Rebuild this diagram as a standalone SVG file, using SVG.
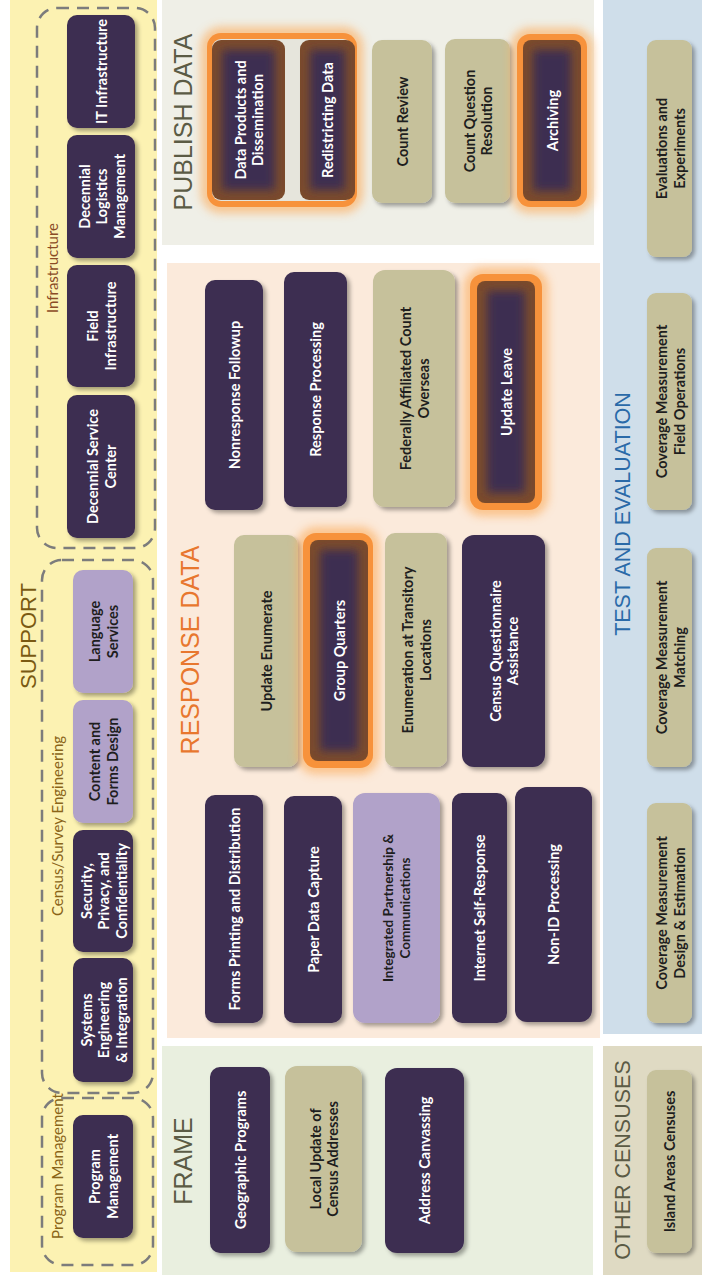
<svg xmlns="http://www.w3.org/2000/svg" width="702" height="1278" viewBox="0 0 702 1278">
  <defs>
    <filter id="sh" x="-30%" y="-30%" width="160%" height="160%">
      <feDropShadow dx="3" dy="3" stdDeviation="2" flood-color="#000" flood-opacity="0.35"/>
    </filter>
    <filter id="glow" x="-40%" y="-40%" width="180%" height="180%">
      <feGaussianBlur stdDeviation="5"/>
    </filter>
    <filter id="soft" x="-60%" y="-60%" width="220%" height="220%">
      <feGaussianBlur stdDeviation="5"/>
    </filter>
    <style>
      text { dominant-baseline: central; text-anchor: middle; }
      .dk { fill: #3e2f51; filter: url(#sh); }
      .tan { fill: #c6c19b; filter: url(#sh); }
      .lp { fill: #b1a2c9; filter: url(#sh); }
      .halo { fill: none; stroke: #fbb36a; stroke-width: 12; opacity: 0.75; filter: url(#glow); }
      .ring { fill: #f7923b; }
      .brown { fill: #7b4b2c; }
      .core { fill: #3e2f51; filter: url(#soft); }
      .w { fill: #ffffff; font-family: Lato, "Open Sans", sans-serif; font-size: 14.5px; font-weight: bold; }
      .b { fill: #1e1e1e; font-family: Lato, "Open Sans", sans-serif; font-size: 14.5px; font-weight: bold; }
      .b.sm { font-size: 13.5px; }
      .grp { fill: none; stroke: #7c7c7c; stroke-width: 2.5; stroke-dasharray: 12 8; }
      .glbl { font-family: Lato, "Open Sans", sans-serif; font-size: 15px; }
      .title { font-family: "Liberation Sans", Arial, sans-serif; }
    </style>
  </defs>

  <rect width="702" height="1278" fill="#ffffff"/>

  <!-- panels -->
  <g id="panels">
    <rect x="10" y="0" width="147" height="1272" fill="#fcf2b2"/>
    <rect x="162" y="0" width="432" height="245" fill="#efefe7"/>
    <rect x="167" y="263" width="433" height="775" fill="#fbeadb"/>
    <rect x="162" y="1046" width="431" height="229" fill="#e9efdf"/>
    <rect x="603" y="0" width="99" height="1034" fill="#cfdeea"/>
    <rect x="603" y="1046" width="99" height="229" fill="#dfdac3"/>
  </g>

  <!-- panel titles -->
  <g id="titles" class="title">
    <text transform="translate(28,636) rotate(-90)" font-size="22" fill="#7a5a12">SUPPORT</text>
    <text transform="translate(183,122) rotate(-90)" font-size="25" fill="#5b5b45">PUBLISH DATA</text>
    <text transform="translate(190,650) rotate(-90)" font-size="25" fill="#e8772e">RESPONSE DATA</text>
    <text transform="translate(183,1161) rotate(-90)" font-size="25" fill="#5b5b45">FRAME</text>
    <text transform="translate(623,514) rotate(-90)" font-size="21.5" fill="#2a6aa8">TEST AND EVALUATION</text>
    <text transform="translate(623,1160) rotate(-90)" font-size="21.5" fill="#5b5b45">OTHER CENSUSES</text>
  </g>

  <!-- dashed support groups -->
  <g id="group-infrastructure">
    <rect class="grp" x="37" y="8" width="118" height="540" rx="20"/>
    <text class="glbl" transform="translate(52,268) rotate(-90)" fill="#8a4b26">Infrastructure</text>
  </g>
  <g id="group-census-survey">
    <rect class="grp" x="42" y="560" width="111" height="533" rx="20"/>
    <text class="glbl" transform="translate(57,826) rotate(-90)" fill="#8a6418">Census/Survey Engineering</text>
  </g>
  <g id="group-program-management">
    <rect class="grp" x="42" y="1098" width="111" height="167" rx="20"/>
    <text class="glbl" transform="translate(57,1166) rotate(-90)" fill="#8a6418">Program Management</text>
  </g>

  <g id="connectors"/>

  <!-- support nodes -->
  <g id="it-infrastructure">
    <rect class="dk" x="67" y="15" width="68" height="113" rx="10"/>
    <text class="w" transform="translate(101,71.5) rotate(-90)">IT Infrastructure</text>
  </g>
  <g id="decennial-logistics">
    <rect class="dk" x="67" y="135" width="68" height="123" rx="10"/>
    <text class="w" transform="translate(101,196.5) rotate(-90)"><tspan x="0" y="-17.5">Decennial</tspan><tspan x="0" y="0">Logistics</tspan><tspan x="0" y="17.5">Management</tspan></text>
  </g>
  <g id="field-infrastructure">
    <rect class="dk" x="67" y="265" width="68" height="122" rx="10"/>
    <text class="w" transform="translate(101,326) rotate(-90)"><tspan x="0" y="-8.75">Field</tspan><tspan x="0" y="8.75">Infrastructure</tspan></text>
  </g>
  <g id="decennial-service-center">
    <rect class="dk" x="67" y="395" width="68" height="143" rx="10"/>
    <text class="w" transform="translate(101,466.5) rotate(-90)"><tspan x="0" y="-8.75">Decennial Service</tspan><tspan x="0" y="8.75">Center</tspan></text>
  </g>
  <g id="language-services">
    <rect class="lp" x="73" y="570" width="60" height="123" rx="10"/>
    <text class="b" transform="translate(103,631.5) rotate(-90)"><tspan x="0" y="-8.75">Language</tspan><tspan x="0" y="8.75">Services</tspan></text>
  </g>
  <g id="content-forms-design">
    <rect class="lp" x="73" y="700" width="60" height="123" rx="10"/>
    <text class="b" transform="translate(103,761.5) rotate(-90)"><tspan x="0" y="-8.75">Content and</tspan><tspan x="0" y="8.75">Forms Design</tspan></text>
  </g>
  <g id="security-privacy">
    <rect class="dk" x="73" y="830" width="60" height="122" rx="10"/>
    <text class="w" transform="translate(103,891) rotate(-90)"><tspan x="0" y="-17.5">Security,</tspan><tspan x="0" y="0">Privacy, and</tspan><tspan x="0" y="17.5">Confidentiality</tspan></text>
  </g>
  <g id="systems-engineering">
    <rect class="dk" x="73" y="958" width="60" height="124" rx="10"/>
    <text class="w" transform="translate(103,1020) rotate(-90)"><tspan x="0" y="-17.5">Systems</tspan><tspan x="0" y="0">Engineering</tspan><tspan x="0" y="17.5">&amp; Integration</tspan></text>
  </g>
  <g id="program-management">
    <rect class="dk" x="73" y="1115" width="60" height="123" rx="10"/>
    <text class="w" transform="translate(103,1176.5) rotate(-90)"><tspan x="0" y="-8.75">Program</tspan><tspan x="0" y="8.75">Management</tspan></text>
  </g>

  <!-- publish data nodes -->
  <g id="data-products-redistricting">
    <rect class="halo" x="207" y="33" width="150" height="174" rx="14"/>
    <rect class="ring" x="207" y="33" width="150" height="174" rx="14"/>
    <rect x="212" y="39" width="140" height="162" rx="9" fill="#e6e5dc"/>
  </g>
  <g id="data-products">
    <rect class="brown" x="212" y="40" width="73" height="160" rx="9"/>
    <rect class="core" x="222" y="50" width="53" height="140"/>
    <text class="w" transform="translate(248.5,120) rotate(-90)"><tspan x="0" y="-8.75">Data Products and</tspan><tspan x="0" y="8.75">Dissemination</tspan></text>
  </g>
  <g id="redistricting-data">
    <rect class="brown" x="300" y="40" width="55" height="160" rx="9"/>
    <rect class="core" x="310" y="50" width="35" height="140"/>
    <text class="w" transform="translate(327.5,120) rotate(-90)">Redistricting Data</text>
  </g>
  <g id="count-review">
    <rect class="tan" x="372" y="40" width="60" height="163" rx="10"/>
    <text class="b" transform="translate(402,121.5) rotate(-90)">Count Review</text>
  </g>
  <g id="count-question-resolution">
    <rect class="tan" x="445" y="39" width="65" height="164" rx="10"/>
    <text class="b" transform="translate(477.5,121) rotate(-90)"><tspan x="0" y="-8.75">Count Question</tspan><tspan x="0" y="8.75">Resolution</tspan></text>
  </g>
  <g id="archiving">
    <rect class="halo" x="517" y="34" width="70" height="173" rx="13"/>
    <rect class="ring" x="517" y="34" width="70" height="173" rx="13"/>
    <rect class="brown" x="523" y="40" width="58" height="161" rx="8"/>
    <rect class="core" x="533" y="50" width="38" height="141"/>
    <text class="w" transform="translate(552,120.5) rotate(-90)">Archiving</text>
  </g>

  <!-- response data nodes -->
  <g id="nonresponse-followup">
    <rect class="dk" x="205" y="280" width="58" height="230" rx="10"/>
    <text class="w" transform="translate(234,395) rotate(-90)">Nonresponse Followup</text>
  </g>
  <g id="response-processing">
    <rect class="dk" x="284" y="272" width="63" height="235" rx="10"/>
    <text class="w" transform="translate(315.5,389.5) rotate(-90)">Response Processing</text>
  </g>
  <g id="federally-affiliated">
    <rect class="tan" x="373" y="270" width="82" height="237" rx="12"/>
    <text class="b" transform="translate(414,388.5) rotate(-90)"><tspan x="0" y="-8.75">Federally Affiliated Count</tspan><tspan x="0" y="8.75">Overseas</tspan></text>
  </g>
  <g id="update-leave">
    <rect class="halo" x="470" y="274" width="72" height="236" rx="13"/>
    <rect class="ring" x="470" y="274" width="72" height="236" rx="13"/>
    <rect class="brown" x="477" y="281" width="58" height="222" rx="8"/>
    <rect class="core" x="487" y="291" width="38" height="202"/>
    <text class="w" transform="translate(506,392) rotate(-90)">Update Leave</text>
  </g>
  <g id="update-enumerate">
    <rect class="tan" x="234" y="535" width="64" height="232" rx="10"/>
    <text class="b" transform="translate(266,651) rotate(-90)">Update Enumerate</text>
  </g>
  <g id="group-quarters">
    <rect class="halo" x="303" y="533" width="70" height="235" rx="13"/>
    <rect class="ring" x="303" y="533" width="70" height="235" rx="13"/>
    <rect class="brown" x="310" y="540" width="58" height="221" rx="8"/>
    <rect class="core" x="320" y="550" width="38" height="201"/>
    <text class="w" transform="translate(339,650.5) rotate(-90)">Group Quarters</text>
  </g>
  <g id="transitory-locations">
    <rect class="tan" x="385" y="533" width="62" height="234" rx="10"/>
    <text class="b" transform="translate(416,650) rotate(-90)"><tspan x="0" y="-8.75">Enumeration at Transitory</tspan><tspan x="0" y="8.75">Locations</tspan></text>
  </g>
  <g id="questionnaire-assistance">
    <rect class="dk" x="462" y="535" width="83" height="232" rx="12"/>
    <text class="w" transform="translate(503.5,651) rotate(-90)"><tspan x="0" y="-8.75">Census Questionnaire</tspan><tspan x="0" y="8.75">Assistance</tspan></text>
  </g>
  <g id="forms-printing">
    <rect class="dk" x="205" y="795" width="58" height="228" rx="10"/>
    <text class="w" transform="translate(234,909) rotate(-90)">Forms Printing and Distribution</text>
  </g>
  <g id="paper-data-capture">
    <rect class="dk" x="284" y="796" width="58" height="227" rx="10"/>
    <text class="w" transform="translate(313,909.5) rotate(-90)">Paper Data Capture</text>
  </g>
  <g id="partnership-communications">
    <rect class="lp" x="353" y="793" width="87" height="230" rx="12"/>
    <text class="b sm" transform="translate(396.5,908) rotate(-90)"><tspan x="0" y="-8.75">Integrated Partnership &amp;</tspan><tspan x="0" y="8.75">Communications</tspan></text>
  </g>
  <g id="internet-self-response">
    <rect class="dk" x="452" y="793" width="55" height="230" rx="10"/>
    <text class="w" transform="translate(479.5,908) rotate(-90)">Internet Self-Response</text>
  </g>
  <g id="non-id-processing">
    <rect class="dk" x="515" y="787" width="77" height="235" rx="12"/>
    <text class="w" transform="translate(553.5,904.5) rotate(-90)">Non-ID Processing</text>
  </g>

  <!-- frame nodes -->
  <g id="geographic-programs">
    <rect class="dk" x="210" y="1067" width="60" height="186" rx="10"/>
    <text class="w" transform="translate(240,1160) rotate(-90)">Geographic Programs</text>
  </g>
  <g id="local-update">
    <rect class="tan" x="285" y="1066" width="77" height="186" rx="12"/>
    <text class="b" transform="translate(323.5,1159) rotate(-90)"><tspan x="0" y="-8.75">Local Update of</tspan><tspan x="0" y="8.75">Census Addresses</tspan></text>
  </g>
  <g id="address-canvassing">
    <rect class="dk" x="385" y="1068" width="79" height="185" rx="12"/>
    <text class="w" transform="translate(424.5,1160.5) rotate(-90)">Address Canvassing</text>
  </g>

  <!-- test and evaluation nodes -->
  <g id="evaluations-experiments">
    <rect class="tan" x="647" y="40" width="45" height="217" rx="9"/>
    <text class="b" transform="translate(669.5,148.5) rotate(-90)"><tspan x="0" y="-9">Evaluations and</tspan><tspan x="0" y="9">Experiments</tspan></text>
  </g>
  <g id="cm-field-operations">
    <rect class="tan" x="647" y="293" width="45" height="217" rx="9"/>
    <text class="b" transform="translate(669.5,401.5) rotate(-90)"><tspan x="0" y="-9">Coverage Measurement</tspan><tspan x="0" y="9">Field Operations</tspan></text>
  </g>
  <g id="cm-matching">
    <rect class="tan" x="647" y="548" width="45" height="219" rx="9"/>
    <text class="b" transform="translate(669.5,657.5) rotate(-90)"><tspan x="0" y="-9">Coverage Measurement</tspan><tspan x="0" y="9">Matching</tspan></text>
  </g>
  <g id="cm-design-estimation">
    <rect class="tan" x="647" y="803" width="45" height="220" rx="9"/>
    <text class="b" transform="translate(669.5,913) rotate(-90)"><tspan x="0" y="-9">Coverage Measurement</tspan><tspan x="0" y="9">Design &amp; Estimation</tspan></text>
  </g>

  <!-- other censuses -->
  <g id="island-areas">
    <rect class="tan" x="647" y="1070" width="45" height="183" rx="9"/>
    <text class="b" transform="translate(669.5,1161.5) rotate(-90)">Island Areas Censuses</text>
  </g>
</svg>
